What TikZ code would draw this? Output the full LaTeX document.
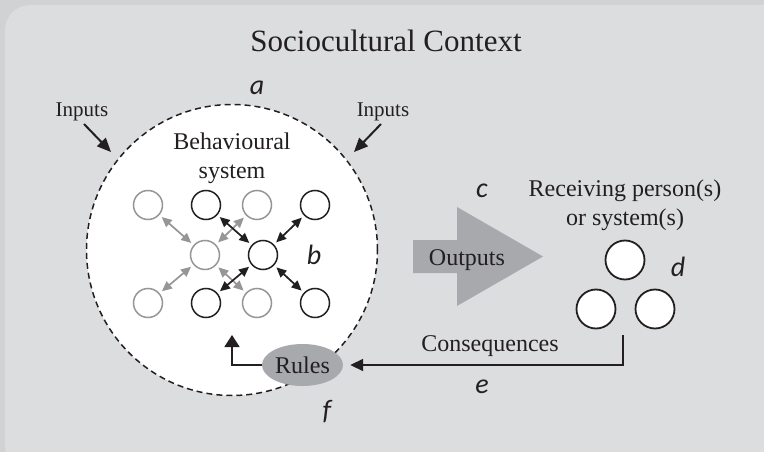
\documentclass[tikz,border=0pt]{standalone}
\usepackage{fontspec}
\setmainfont{Liberation Serif}
\newfontfamily\letterfont{Carlito}
\usetikzlibrary{arrows.meta,shapes.geometric}

\definecolor{outerbg}{RGB}{209,210,212}
\definecolor{panelbg}{RGB}{220,221,223}
\definecolor{ink}{RGB}{35,31,32}
\definecolor{softgray}{RGB}{150,150,152}
\definecolor{midgray}{RGB}{167,169,172}

\begin{document}
\begin{tikzpicture}[x=1pt,y=-1pt,
  txt/.style={inner sep=0pt,text=ink,font=\fontsize{24}{29}\selectfont},
  smalltxt/.style={txt,font=\fontsize{21}{25}\selectfont},
  tag/.style={inner sep=0pt,text=ink,font=\letterfont\itshape\fontsize{28}{32}\selectfont},
  unit/.style={circle,line width=1.5pt,minimum size=29pt,inner sep=0pt,fill=white},
  blackunit/.style={unit,draw=ink},
  grayunit/.style={unit,draw=softgray},
  receiver/.style={circle,draw=ink,line width=1.8pt,minimum size=39pt,inner sep=0pt,fill=white},
  link/.style={{Triangle[length=10pt,width=9pt]}-{Triangle[length=10pt,width=9pt]},
    line width=1.7pt,shorten >=3pt,shorten <=3pt},
  graylink/.style={link,draw=softgray},
  blacklink/.style={link,draw=ink},
  inarrow/.style={-{Triangle[length=14pt,width=12pt]},line width=2pt,draw=ink},
  feedback/.style={line width=1.8pt,draw=ink},
]
% page and panel
\useasboundingbox (0,0) rectangle (764,452);
\clip (0,0) rectangle (764,452);
\fill[outerbg] (0,0) rectangle (764,452);
\fill[panelbg,rounded corners=25pt] (5,5) rectangle (790,470);

\node[inner sep=0pt,text=ink,font=\fontsize{31}{36}\selectfont,anchor=base] (title) at (386,52) {Sociocultural Context};

% behavioural system boundary
\node[circle,draw=ink,fill=white,line width=1.5pt,dash pattern=on 6pt off 4pt,
      minimum size=291pt,inner sep=0pt] (system) at (232,250) {};

\node[txt,align=center] (behav) at (232,158) {Behavioural\\system};

% units of the behavioural system
\node[grayunit]  (g11) at (148,205) {};
\node[blackunit] (b12) at (206,205) {};
\node[grayunit]  (g13) at (257,205) {};
\node[blackunit] (b14) at (315,205) {};
\node[grayunit]  (gmid) at (205,255) {};
\node[blackunit] (bmid) at (263,255) {};
\node[grayunit]  (g31) at (148,303) {};
\node[blackunit] (b32) at (206,303) {};
\node[grayunit]  (g33) at (257,303) {};
\node[blackunit] (b34) at (315,303) {};

\draw[graylink] (gmid) -- (g11);
\draw[graylink] (gmid) -- (g13);
\draw[graylink] (gmid) -- (g31);
\draw[graylink] (gmid) -- (g33);
\draw[blacklink] (bmid) -- (b12);
\draw[blacklink] (bmid) -- (b14);
\draw[blacklink] (bmid) -- (b32);
\draw[blacklink] (bmid) -- (b34);

% inputs
\node[smalltxt,anchor=base] (inL) at (82,117) {Inputs};
\node[smalltxt,anchor=base] (inR) at (383,117) {Inputs};
\coordinate (inLtail) at (84,124);
\coordinate (inLtip) at (111,152);
\coordinate (inRtail) at (381,124);
\coordinate (inRtip) at (354,152);
\draw[inarrow] (inLtail) -- (inLtip);
\draw[inarrow] (inRtail) -- (inRtip);

% outputs
\fill[midgray] (413,240) -- (457,240) -- (457,207) -- (543,256.5) -- (457,306)
  -- (457,273) -- (413,273) -- cycle;
\node[txt,anchor=base] (outputs) at (467,265) {Outputs};

% receiving person(s) or system(s)
\node[txt,align=center] (recv) at (625,205) {Receiving person(s)\\or system(s)};
\node[receiver] (r1) at (625,260) {};
\node[receiver] (r2) at (596,309) {};
\node[receiver] (r3) at (655,309) {};

% rules and consequences
\node[ellipse,fill=midgray,minimum width=81pt,minimum height=42pt,inner sep=0pt,
      text=ink,font=\fontsize{24}{29}\selectfont] (rules) at (302.5,365) {Rules};
\coordinate (consStart) at (623,335);
\draw[feedback,-{Triangle[length=13pt,width=12pt]},shorten >=7pt] (consStart) |- (rules.east);
\node[txt,anchor=base] (cons) at (490,351.5) {Consequences};
\coordinate (ruleTip) at (232,335);
\draw[feedback,-{Triangle[length=12pt,width=15pt]}] (rules.west) -| (ruleTip);

% labels
\node[tag] (la) at (257,88) {a};
\node[tag] (lb) at (314,255) {b};
\node[tag] (lc) at (482,191) {c};
\node[tag] (ld) at (678,267) {d};
\node[tag] (le) at (482,387) {e};
\node[tag] (lf) at (327,412) {f};
\end{tikzpicture}
\end{document}
